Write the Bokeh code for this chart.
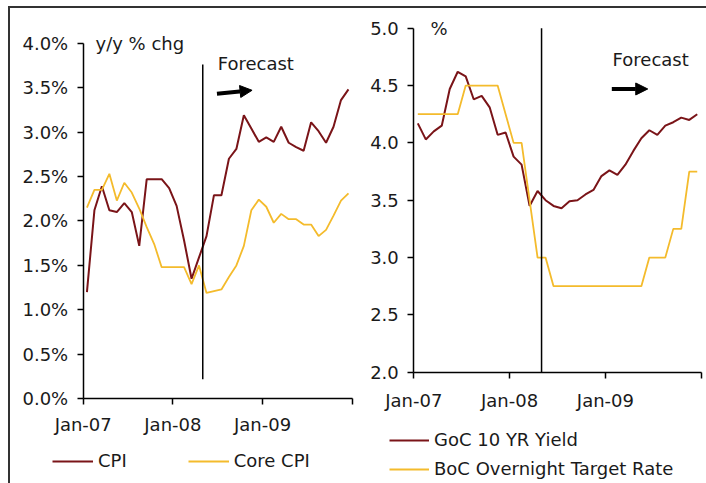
from bokeh.plotting import figure
from bokeh.layouts import row, column
from bokeh.models import (Spacer, FixedTicker, PrintfTickFormatter, Legend, LegendItem,
                          Label, Arrow, NormalHead, Range1d)
from bokeh.embed import file_html
from bokeh.resources import INLINE

# Monthly series, Jan-07 .. Dec-09 (36 months; last part is forecast)
cpi = [1.20, 2.12, 2.39, 2.12, 2.10, 2.20, 2.10, 1.72, 2.47, 2.47, 2.47, 2.37,
       2.17, 1.78, 1.35, 1.59, 1.83, 2.29, 2.29, 2.70, 2.81, 3.19, 3.04, 2.89,
       2.94, 2.89, 3.06, 2.88, 2.83, 2.79, 3.11, 3.01, 2.88, 3.06, 3.36, 3.48]
core_cpi = [2.15, 2.35, 2.35, 2.53, 2.23, 2.43, 2.32, 2.14, 1.93, 1.74, 1.48, 1.48,
            1.48, 1.48, 1.29, 1.50, 1.19, 1.21, 1.23, 1.37, 1.50, 1.72, 2.12, 2.24,
            2.16, 1.98, 2.08, 2.02, 2.02, 1.96, 1.96, 1.83, 1.90, 2.06, 2.23, 2.31]
goc_10yr = [4.17, 4.03, 4.10, 4.15, 4.47, 4.62, 4.58, 4.38, 4.41, 4.31, 4.07, 4.09,
            3.88, 3.81, 3.45, 3.58, 3.50, 3.45, 3.43, 3.49, 3.50, 3.55, 3.59, 3.71,
            3.76, 3.72, 3.81, 3.93, 4.04, 4.11, 4.07, 4.15, 4.18, 4.22, 4.20, 4.25]
boc_rate = [4.25, 4.25, 4.25, 4.25, 4.25, 4.25, 4.50, 4.50, 4.50, 4.50, 4.50, 4.25,
            4.00, 4.00, 3.50, 3.00, 3.00, 2.75, 2.75, 2.75, 2.75, 2.75, 2.75, 2.75,
            2.75, 2.75, 2.75, 2.75, 2.75, 3.00, 3.00, 3.00, 3.25, 3.25, 3.75, 3.75]

year_ticks = [0, 12, 24, 36]
year_labels = {0: "Jan-07", 12: "Jan-08", 24: "Jan-09", 36: ""}
forecast_start = 16

# each month is plotted at the centre of its slot
x = [i + 0.5 for i in range(len(cpi))]

RED = "#7a1418"
GOLD = "#f4bb2c"
FONT = "DejaVu Sans"
TXT = "#1a1a1a"
FS = "18px"


def make_panel(width, xr, yr, yticks, ybounds, fmt, x_standoff):
    # the frame fills the whole canvas; both axes sit at fixed data positions
    p = figure(width=width, height=475, x_range=Range1d(*xr), y_range=Range1d(*yr),
               output_backend="svg", toolbar_location=None,
               min_border_left=0, min_border_right=0,
               min_border_top=0, min_border_bottom=0)
    p.xgrid.visible = False
    p.ygrid.visible = False
    p.outline_line_color = None
    p.background_fill_color = "white"
    p.border_fill_color = "white"
    p.xaxis.fixed_location = ybounds[0]
    p.xaxis.bounds = (0, 36)
    p.xaxis.ticker = FixedTicker(ticks=year_ticks)
    p.xaxis.major_label_overrides = year_labels
    p.yaxis.fixed_location = 0
    p.yaxis.bounds = ybounds
    p.yaxis.ticker = FixedTicker(ticks=yticks)
    p.yaxis.formatter = PrintfTickFormatter(format=fmt)
    for ax in p.axis:
        ax.axis_line_color = "black"
        ax.axis_line_width = 1.5
        ax.major_tick_line_color = "black"
        ax.major_tick_line_width = 1.5
        ax.major_tick_out = 6
        ax.major_tick_in = 0
        ax.minor_tick_line_color = None
        ax.major_label_text_font = FONT
        ax.major_label_text_font_size = FS
        ax.major_label_text_color = TXT
        ax.major_label_standoff = 9
    p.xaxis.major_label_standoff = x_standoff
    return p


def legend_for(p, items, loc, orientation, spacing, glyph_w, standoff):
    lg = Legend(items=items, location=loc, orientation=orientation,
                spacing=spacing, padding=0, margin=0,
                glyph_width=glyph_w, glyph_height=20, label_height=20,
                label_standoff=standoff,
                label_text_font=FONT, label_text_font_size=FS,
                label_text_color=TXT,
                border_line_color=None, background_fill_alpha=0)
    p.add_layout(lg)


def note(p, xv, yv, text):
    p.add_layout(Label(x=xv, y=yv, text=text, text_font=FONT, text_font_size=FS,
                       text_color=TXT, text_baseline="middle"))


def arrow(p, x0, y0, x1, y1):
    p.add_layout(Arrow(end=NormalHead(size=12, fill_color="black", line_color="black"),
                       x_start=x0, y_start=y0, x_end=x1, y_end=y1,
                       line_color="black", line_width=4))


# ---- left panel: inflation ----
p1 = make_panel(350, (-9.73, 37.11), (-0.953, 4.39),
                [0, 0.5, 1, 1.5, 2, 2.5, 3, 3.5, 4], (0, 4), "%.1f%%", 9)
r_cpi = p1.line(x, cpi, line_color=RED, line_width=2)
r_core = p1.line(x, core_cpi, line_color=GOLD, line_width=1.8)
p1.segment(x0=[forecast_start], y0=[0.22], x1=[forecast_start], y1=[3.76],
           line_color="black", line_width=1.5)
note(p1, 1.65, 4.0, "y/y % chg")
note(p1, 18.0, 3.77, "Forecast")
arrow(p1, 17.9, 3.43, 22.6, 3.47)
legend_for(p1, [LegendItem(label="CPI", renderers=[r_cpi]),
                LegendItem(label="Core CPI", renderers=[r_core])],
           (42, 12), "horizontal", 61, 41, 5)

# ---- right panel: rates ----
p2 = make_panel(346, (-6.677, 36.66), (1.0294, 5.1718),
                [2, 2.5, 3, 3.5, 4, 4.5, 5], (2, 5), "%.1f", 12)
r_goc = p2.line(x, goc_10yr, line_color=RED, line_width=2)
r_boc = p2.line(x, boc_rate, line_color=GOLD, line_width=1.8)
p2.segment(x0=[forecast_start], y0=[2.0], x1=[forecast_start], y1=[5.0],
           line_color="black", line_width=1.5)
note(p2, 2.1, 5.0, "%")
note(p2, 24.9, 4.73, "Forecast")
arrow(p2, 24.8, 4.47, 29.3, 4.47)
legend_for(p2, [LegendItem(label="GoC 10 YR Yield", renderers=[r_goc]),
                LegendItem(label="BoC Overnight Target Rate", renderers=[r_boc])],
           (29, 4), "vertical", 8, 40, 5)

# frame rules along the top and left edge
rule = {"background-color": "#333333"}
layout = column(
    Spacer(width=706, height=6),
    row(Spacer(width=8, height=477),
        column(Spacer(width=698, height=2, styles=rule),
               row(Spacer(width=2, height=475, styles=rule), p1, p2))))

open("out.html", "w").write(file_html(layout, INLINE))
